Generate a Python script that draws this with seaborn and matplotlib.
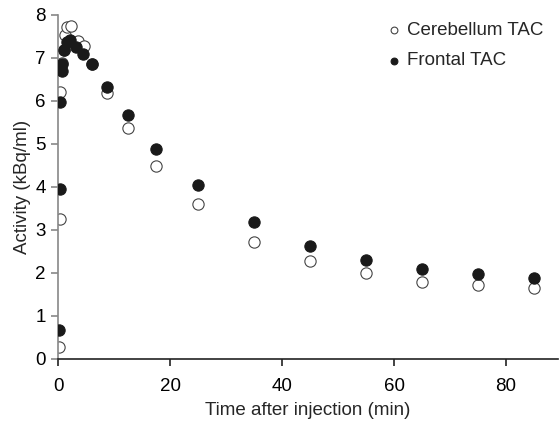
import pandas as pd
import seaborn as sns
import matplotlib
matplotlib.use("Agg")
import matplotlib.pyplot as plt

# --- DADOS ---
tempo_cereb = [0.23, 0.33, 0.42, 0.75, 1.0, 1.3, 1.6, 2.4, 3.5, 4.6, 6.0, 8.7, 12.5,
               17.5, 25, 35, 45, 55, 65, 75, 85]
ativ_cereb = [0.27, 3.25, 6.20, 6.88, 7.18, 7.52, 7.72, 7.74, 7.38, 7.28, 6.85, 6.19, 5.36,
              4.49, 3.61, 2.72, 2.27, 1.99, 1.78, 1.72, 1.65]

tempo_front = [0.23, 0.33, 0.42, 0.67, 0.75, 1.0, 1.6, 2.2, 3.2, 4.5, 6.0, 8.7, 12.5,
               17.5, 25, 35, 45, 55, 65, 75, 85]
ativ_front = [0.67, 3.95, 5.98, 6.70, 6.86, 7.18, 7.36, 7.42, 7.25, 7.08, 6.85, 6.33, 5.67,
              4.89, 4.05, 3.17, 2.62, 2.30, 2.08, 1.98, 1.88]

df_cereb = pd.DataFrame({"t": tempo_cereb, "a": ativ_cereb})
df_front = pd.DataFrame({"t": tempo_front, "a": ativ_front})

sns.set_style("white")
plt.rcParams["font.family"] = ["Liberation Sans", "DejaVu Sans"]

fig = plt.figure(figsize=(5.6, 4.24), dpi=100)
ax = fig.add_axes([0.1036, 0.154, 0.893, 0.811])

sns.scatterplot(data=df_cereb, x="t", y="a", ax=ax, s=66, facecolor="white",
                edgecolor="#444444", linewidth=0.8, label="Cerebellum TAC", zorder=2)
sns.scatterplot(data=df_front, x="t", y="a", ax=ax, s=66, color="#1a1a1a",
                edgecolor="#1a1a1a", linewidth=0.8, label="Frontal TAC", zorder=3)

ax.set_xlim(0, 89.3)
ax.set_ylim(0, 8)
ax.set_xticks([0, 20, 40, 60, 80])
ax.set_yticks(range(0, 9))

ax.spines["top"].set_visible(False)
ax.spines["right"].set_visible(False)
ax.spines["left"].set_color("#888888")
ax.spines["bottom"].set_color("#222222")
ax.spines["left"].set_linewidth(1.2)
ax.spines["bottom"].set_linewidth(1.2)

ax.tick_params(axis="y", direction="out", length=5, width=1.2, color="#888888",
               labelsize=13.5, labelcolor="black", left=True, pad=4)
ax.tick_params(axis="x", direction="out", length=5, width=1.2, color="#222222",
               labelsize=13.5, labelcolor="black", bottom=True, pad=9)

ax.set_xlabel("Time after injection (min)", fontsize=13.5, labelpad=5)
ax.set_ylabel("Activity (kBq/ml)", fontsize=13.5, labelpad=3)

leg = ax.legend(loc="upper right", bbox_to_anchor=(1.005, 1.028), frameon=False,
                fontsize=13.5, markerscale=0.6, handletextpad=0.2, labelspacing=0.7,
                handlelength=1.0)

fig.savefig("out.png", dpi=100)
